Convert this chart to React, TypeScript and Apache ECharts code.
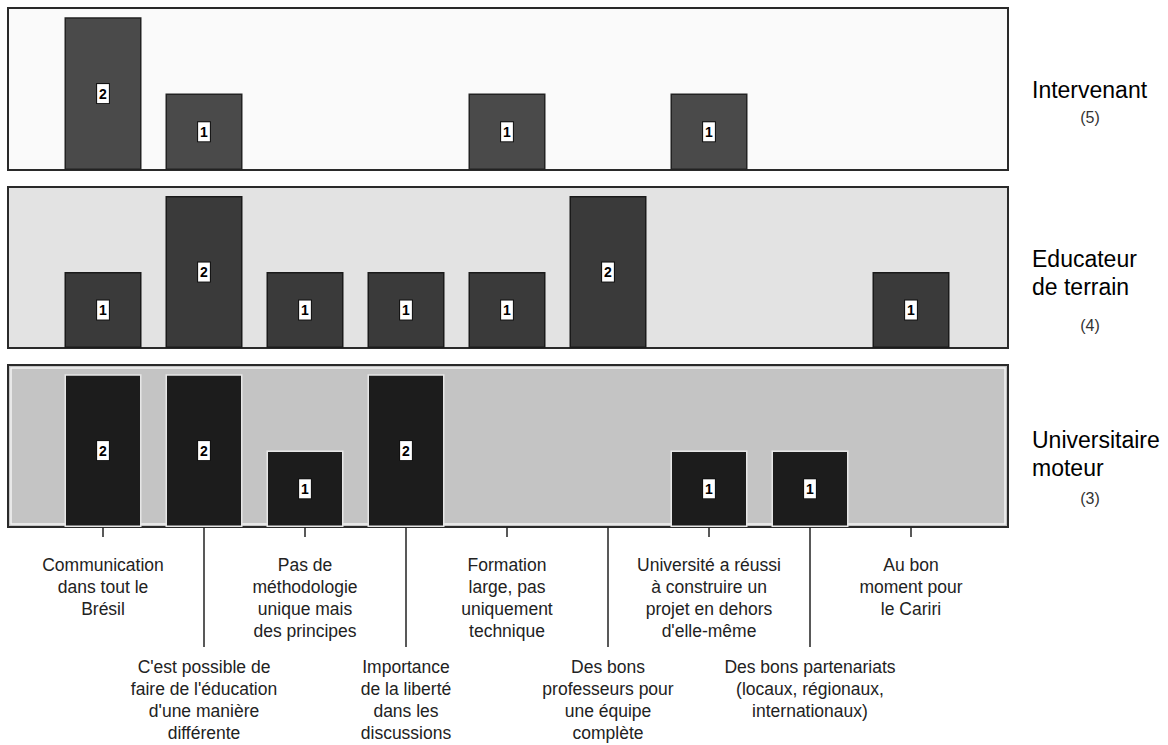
import React, { useEffect, useRef } from "react";
import * as echarts from "echarts";

const categories = [
  "Communication\ndans tout le\nBrésil",
  "C'est possible de\nfaire de l'éducation\nd'une manière\ndifférente",
  "Pas de\nméthodologie\nunique mais\ndes principes",
  "Importance\nde la liberté\ndans les\ndiscussions",
  "Formation\nlarge, pas\nuniquement\ntechnique",
  "Des bons\nprofesseurs pour\nune équipe\ncomplète",
  "Université a réussi\nà construire un\nprojet en dehors\nd'elle-même",
  "Des bons partenariats\n(locaux, régionaux,\ninternationaux)",
  "Au bon\nmoment pour\nle Cariri",
];

const groupNames = ["Intervenant", "Educateur\nde terrain", "Universitaire\nmoteur"];
const groupCounts = ["(5)", "(4)", "(3)"];

const intervenant = [2, 1, 0, 0, 1, 0, 1, 0, 0];
const educateur = [1, 2, 1, 1, 1, 2, 0, 0, 1];
const universitaire = [2, 2, 1, 2, 0, 0, 1, 1, 0];

const FONT = "Liberation Sans, Arial, sans-serif";

export default function App() {
  const ref = useRef<HTMLDivElement>(null);
  useEffect(() => {
    if (!ref.current) return;
    const chart = echarts.init(ref.current, null, { renderer: "svg" });

    const panels = [
      { top: 8, height: 162, bg: "#fafafa", bar: "#4a4a4a", barBorder: "#222", values: intervenant },
      { top: 187, height: 161, bg: "#e3e3e3", bar: "#3a3a3a", barBorder: "#1a1a1a", values: educateur },
      { top: 365, height: 162, bg: "#c4c4c4", bar: "#1c1c1c", barBorder: "#e6e6e6", values: universitaire },
    ];

    const gridLeft = 52.5;
    const gridWidth = 909;

    const grids = panels.map((p) => ({ left: gridLeft, width: gridWidth, top: p.top, height: p.height }));

    const labelCommon = {
      fontSize: 17.5,
      lineHeight: 22,
      color: "#222",
      fontFamily: FONT,
    };

    const xAxes: any[] = [
      { type: "category", gridIndex: 0, data: categories, show: false },
      { type: "category", gridIndex: 1, data: categories, show: false },
      {
        type: "category",
        gridIndex: 2,
        data: categories,
        position: "bottom",
        axisLine: { show: false },
        splitLine: { show: false },
        axisTick: {
          show: true,
          alignWithLabel: true,
          length: 10,
          interval: (i: number) => i % 2 === 0,
          lineStyle: { color: "#222", width: 1.5 },
        },
        axisLabel: {
          interval: (i: number) => i % 2 === 0,
          margin: 27,
          ...labelCommon,
        },
      },
      {
        type: "category",
        gridIndex: 2,
        data: categories,
        position: "bottom",
        offset: 0,
        axisLine: { show: false },
        splitLine: { show: false },
        axisTick: {
          show: true,
          alignWithLabel: true,
          length: 120,
          interval: (i: number) => i % 2 === 1,
          lineStyle: { color: "#222", width: 1.5 },
        },
        axisLabel: {
          interval: (i: number) => i % 2 === 1,
          margin: 129,
          ...labelCommon,
        },
      },
    ];

    const yAxes = panels.map((p, i) => ({
      type: "value",
      gridIndex: i,
      min: 0,
      max: 2.12,
      show: false,
      splitLine: { show: false },
    }));

    const series = panels.map((p, i) => ({
      type: "bar",
      xAxisIndex: i,
      yAxisIndex: i,
      barWidth: 77,
      data: p.values.map((v) => (v > 0 ? v : "-")),
      itemStyle: { color: p.bar, borderColor: p.barBorder, borderWidth: 1.5 },
      label: {
        show: true,
        position: "inside",
        formatter: "{c}",
        backgroundColor: "#fff",
        borderColor: "#111",
        borderWidth: 1,
        color: "#000",
        fontWeight: "bold",
        fontSize: 14,
        fontFamily: FONT,
        padding: [3, 2, 2, 2],
      },
    }));

    const graphic: any[] = [];
    panels.forEach((p) => {
      graphic.push({
        type: "rect",
        z: -10,
        shape: { x: 8, y: p.top, width: 1000, height: p.height },
        style: { fill: p.bg, stroke: "#2a2a2a", lineWidth: 2 },
      });
    });
    graphic.push({
      type: "rect",
      z: -9,
      shape: { x: 11, y: 368, width: 994, height: 156 },
      style: { fill: "none", stroke: "#f4f4f4", lineWidth: 1.5 },
    });

    const nameY = [90, 273, 454];
    const countY = [117, 325, 498];
    groupNames.forEach((name, i) => {
      graphic.push({
        type: "text",
        x: 1032,
        y: nameY[i],
        style: {
          text: name,
          fontSize: 23,
          lineHeight: 28,
          fontFamily: FONT,
          fill: "#000",
          textAlign: "left",
          textVerticalAlign: "middle",
        },
      });
      graphic.push({
        type: "text",
        x: 1090,
        y: countY[i],
        style: {
          text: groupCounts[i],
          fontSize: 16,
          fontFamily: FONT,
          fill: "#333",
          textAlign: "center",
          textVerticalAlign: "middle",
        },
      });
    });

    chart.setOption({
      animation: false,
      backgroundColor: "#fff",
      grid: grids,
      xAxis: xAxes,
      yAxis: yAxes,
      series,
      graphic,
    });
    return () => chart.dispose();
  }, []);

  return (
    <div
      ref={ref}
      style={{ position: "fixed", left: 0, top: 0, width: 1168, height: 745 }}
    />
  );
}
